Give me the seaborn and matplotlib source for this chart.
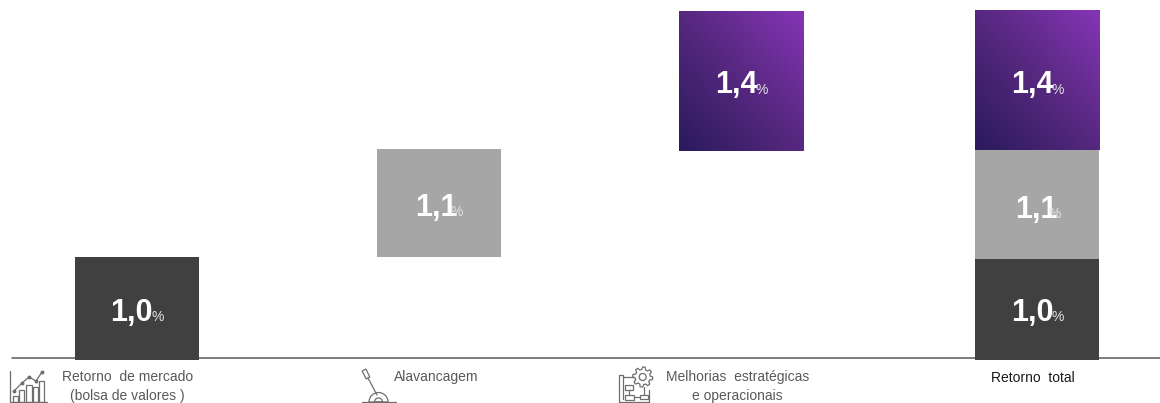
import numpy as np
import seaborn as sns
import matplotlib.pyplot as plt
from matplotlib.colors import LinearSegmentedColormap
from matplotlib.patches import Circle, Polygon, Rectangle, Wedge

# dados
categorias = ['Retorno  de mercado\n(bolsa de valores )', 'Alavancagem', 'Melhorias  estratégicas\ne operacionais', 'Retorno  total']
valores_etapas = [1.03, 1.09, 1.40]
bases_etapas = [0, 1.03, 2.10]
valores_total = [1.01, 1.10, 1.40]
bases_total = [0, 1.01, 2.11]
rotulos = ['1,0', '1,1', '1,4']

# centro das colunas em pixels da figura
xs = [137, 439, 741.5, 1037]
largura = 124.5
escala = 99.5  # pixels por ponto percentual
base_px = 359.7

cinza_escuro = '#404040'
cinza_claro = '#a6a6a6'
roxo = LinearSegmentedColormap.from_list('roxo', ['#2a1a5c', '#56287f', '#8535b5'])
cores = [cinza_escuro, cinza_claro, roxo(0.5)]

sns.set_style('white')
plt.rcParams['font.family'] = ['Liberation Sans', 'DejaVu Sans']

fig = plt.figure(figsize=(11.6, 4.03), dpi=100)
ax = fig.add_axes([0, 0, 1, 1])

for i in range(3):
    sns.barplot(x=[xs[i]], y=[valores_etapas[i]], bottom=bases_etapas[i], native_scale=True, width=largura,
                color=cores[i], saturation=1, linewidth=0, ax=ax, zorder=3)
    sns.barplot(x=[xs[3]], y=[valores_total[i]], bottom=bases_total[i], native_scale=True, width=largura,
                color=cores[i], saturation=1, linewidth=0, ax=ax, zorder=3)

# gradiente nas colunas roxas
n = 200
gx, gy = np.meshgrid(np.linspace(0, 1, n), np.linspace(0, 1, n))
grad = (gx + gy) / 2
for bar in ax.patches:
    if bar.get_facecolor()[:3] == roxo(0.5)[:3]:
        x0, y0, w, h = bar.get_x(), bar.get_y(), bar.get_width(), bar.get_height()
        ax.imshow(grad, origin='lower', extent=(x0, x0 + w, y0, y0 + h), cmap=roxo, aspect='auto', zorder=4)
        bar.set_visible(False)

ax.plot([12, 1160], [(base_px - 357.7) / escala] * 2, color='#595959', lw=1.1, zorder=2)
ax.set_xlim(0, 1160)
ax.set_ylim(-(403 - base_px) / escala, base_px / escala)
ax.axis('off')

# camada em pixels para textos e icones
px = fig.add_axes([0, 0, 1, 1], facecolor='none')
px.set_xlim(0, 1160)
px.set_ylim(403, 0)
px.axis('off')

# rotulos de valor: texto, x do numero, x do %, linha de base
posicoes = [
    (rotulos[0], 110, 152, 321),
    (rotulos[1], 415.5, 450.5, 216),
    (rotulos[2], 715, 756, 93.5),
    (rotulos[0], 1011, 1052, 321),
    (rotulos[1], 1015, 1048.5, 218),
    (rotulos[2], 1011, 1052, 93.5),
]
for txt, x1, x2, y in posicoes:
    px.text(x1, y, txt, color='white', fontsize=22, fontweight='bold', ha='left', va='baseline')
    px.text(x2, y, '%', color='#e4e4e4', fontsize=10, ha='left', va='baseline')

# rotulos das categorias
cor_txt = '#595959'
px.text(127.5, 386.5, categorias[0], color=cor_txt, fontsize=10, ha='center', va='center', linespacing=1.5)
px.text(436.5, 377.5, categorias[1], color=cor_txt, fontsize=10, ha='center', va='center')
px.text(737.5, 386.5, categorias[2], color=cor_txt, fontsize=10, ha='center', va='center', linespacing=1.5)
px.text(1033, 377.5, categorias[3], color='#1a1a1a', fontsize=10, ha='center', va='center')

ic = {'color': '#6e6e6e', 'lw': 0.9}
ic_p = {'fill': False, 'ec': '#6e6e6e', 'lw': 0.9}

# icone 1: grafico
px.plot([9.5, 9.5, 47], [371, 402, 402], **ic)
for x0, topo, w in [(12.5, 396, 5), (19, 390, 5), (26, 385, 6), (33, 387, 5), (39, 381, 5)]:
    px.add_patch(Rectangle((x0, topo), w, 402 - topo, **ic_p))
px.plot([14, 22, 29, 36, 42], [391, 383, 377, 381, 372], marker='o', ms=1.8, **ic)

# icone 2: alavanca (eixo y invertido, por isso 180-360)
px.plot([362, 396], [402, 402], **ic)
px.add_patch(Wedge((378.5, 402), 9.5, 180, 360, **ic_p))
px.add_patch(Wedge((378.5, 402), 4, 180, 360, **ic_p))
px.plot([368, 377], [378, 395], **ic)
px.add_patch(Polygon([(369.8, 377), (366.2, 379), (362.2, 371), (365.8, 369)], **ic_p))

# icone 3: planta com engrenagem
px.plot([634, 623, 623, 619, 619, 649, 649], [377, 377, 375, 375, 402, 402, 390], **ic)
px.plot([623, 623], [375, 399], **ic)
px.add_patch(Rectangle((625, 385), 8, 4.5, **ic_p))
px.add_patch(Rectangle((625, 395), 9, 4.5, **ic_p))
px.add_patch(Rectangle((640, 394.5), 8, 4.5, **ic_p))
px.plot([634, 640], [397, 397], **ic)
px.plot([629, 629], [389.5, 395], **ic)
px.plot([644, 644], [387, 394.5], **ic)
ang = np.linspace(0, 2 * np.pi, 48, endpoint=False)
raio = np.where(np.arange(48) % 6 < 3, 10, 7.6)
px.add_patch(Polygon(np.column_stack([642.7 + raio * np.cos(ang), 377 + raio * np.sin(ang)]), **ic_p))
px.add_patch(Circle((642.7, 377), 3.5, **ic_p))

fig.savefig('out.png', dpi=100)
